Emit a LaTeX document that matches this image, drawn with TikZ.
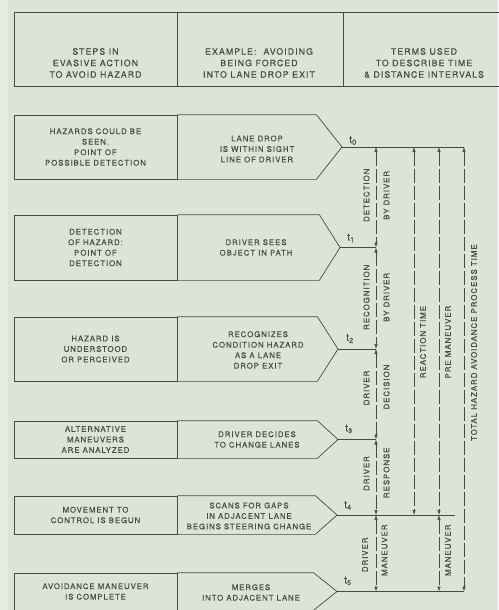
\documentclass[tikz,border=0pt]{standalone}
\usepackage{fontspec}
\setmainfont{TeX Gyre Heros}[LetterSpace=12, FakeBold=0.4]
\usetikzlibrary{arrows.meta, positioning}
\definecolor{paper}{HTML}{DDE4D5}
\definecolor{paperedge}{HTML}{E7ECE1}
\definecolor{ink}{HTML}{464B42}
\definecolor{inktext}{HTML}{484D45}
\tikzset{
  boxline/.style={draw=ink, line width=0.7pt},
  headtxt/.style={align=center, text=inktext, font=\fontsize{8.8}{11.5}\selectfont, inner sep=0pt},
  stepbox/.style={rectangle, boxline, minimum width=163pt, align=center,
                  text=inktext, font=\fontsize{7.8}{10.5}\selectfont, inner sep=2pt},
  extxt/.style={align=center, text=inktext, font=\fontsize{7.8}{10.5}\selectfont, inner sep=0pt},
  tlab/.style={text=inktext, font=\fontsize{10.5}{12}\selectfont, inner sep=1pt},
  tline/.style={draw=ink, line width=0.7pt},
  dim/.style={draw=ink, line width=0.55pt, dash pattern=on 14pt off 3pt,
              {Latex[length=5pt,width=3.4pt]}-{Latex[length=5pt,width=3.4pt]}},
  vlab/.style={rotate=90, text=inktext, font=\fontsize{7.9}{9}\selectfont, inner sep=0pt},
}

\begin{document}
\begin{tikzpicture}[x=1pt, y=-1pt]
  \useasboundingbox (0,0) rectangle (498,610);
  \fill[paper] (0,0) rectangle (498,610);
  \fill[paperedge] (0,0) rectangle (8,610);

  % header
  \draw[boxline] (14,12) rectangle (512,86);
  \draw[boxline] (177,12) -- (177,86);
  \draw[boxline] (343,12) -- (343,86);
  \node[headtxt] (h1) at (95.5,63) {STEPS IN\\EVASIVE ACTION\\TO AVOID HAZARD};
  \node[headtxt] (h2) at (259,63) {EXAMPLE:\ \ AVOIDING\\BEING FORCED\\INTO LANE DROP EXIT};
  \node[headtxt] (h3) at (424,63) {TERMS USED\\TO DESCRIBE TIME\\\& DISTANCE INTERVALS};

  % steps and examples
  \node[stepbox, minimum height=64pt] (s0) at (95.5,147) {HAZARDS COULD BE\\SEEN.\\POINT OF\\POSSIBLE DETECTION};
  \coordinate (t0) at (342,147);
  \draw[boxline] (s0.north east) -- ([xshift=139pt]s0.north east) -- (t0) -- ([xshift=139pt]s0.south east) -- (s0.south east);
  \node[extxt] (e0) at (257,149) {LANE DROP\\IS WITHIN SIGHT\\LINE OF DRIVER};

  \node[stepbox, minimum height=65pt] (s1) at (95.5,247.5) {DETECTION\\OF HAZARD:\\POINT OF\\DETECTION};
  \coordinate (t1) at (340,247.5);
  \draw[boxline] (s1.north east) -- ([xshift=142pt]s1.north east) -- (t1) -- ([xshift=142pt]s1.south east) -- (s1.south east);
  \node[extxt] (e1) at (256,247.5) {DRIVER SEES\\OBJECT IN PATH};

  \node[stepbox, minimum height=64pt] (s2) at (95.5,349) {HAZARD IS\\UNDERSTOOD\\OR PERCEIVED};
  \coordinate (t2) at (338,349);
  \draw[boxline] (s2.north east) -- ([xshift=140pt]s2.north east) -- (t2) -- ([xshift=140pt]s2.south east) -- (s2.south east);
  \node[extxt] (e2) at (258,350) {RECOGNIZES\\CONDITION HAZARD\\AS A LANE\\DROP EXIT};

  \node[stepbox, minimum height=37pt] (s3) at (95.5,439.5) {ALTERNATIVE\\MANEUVERS\\ARE ANALYZED};
  \coordinate (t3) at (338,439.5);
  \draw[boxline] (s3.north east) -- ([xshift=140pt]s3.north east) -- (t3) -- ([xshift=140pt]s3.south east) -- (s3.south east);
  \node[extxt] (e3) at (257,439.5) {DRIVER DECIDES\\TO CHANGE LANES};

  \node[stepbox, minimum height=38pt] (s4) at (95.5,515) {MOVEMENT TO\\CONTROL IS BEGUN};
  \coordinate (t4) at (337,515);
  \draw[boxline] (s4.north east) -- ([xshift=138pt]s4.north east) -- (t4) -- ([xshift=138pt]s4.south east) -- (s4.south east);
  \node[extxt] (e4) at (249,516) {SCANS FOR GAPS\\IN ADJACENT LANE\\BEGINS STEERING CHANGE};

  \node[stepbox, minimum height=37pt] (s5) at (95.5,591.5) {AVOIDANCE MANEUVER\\IS COMPLETE};
  \coordinate (t5) at (337,591.5);
  \draw[boxline] (s5.north east) -- ([xshift=136pt]s5.north east) -- (t5) -- ([xshift=136pt]s5.south east) -- (s5.south east);
  \node[extxt] (e5) at (251,592.5) {MERGES\\INTO ADJACENT LANE};

  % time marks
  \node[tlab, above right=1pt and 6pt of t0] (l0) {t\textsubscript{0}};
  \node[tlab, above right=4pt and 6pt of t1] (l1) {t\textsubscript{1}};
  \node[tlab, above right=5pt and 7pt of t2] (l2) {t\textsubscript{2}};
  \node[tlab, above right=5pt and 6pt of t3] (l3) {t\textsubscript{3}};
  \node[tlab, above right=4pt and 6pt of t4] (l4) {t\textsubscript{4}};
  \node[tlab, above right=5pt and 6pt of t5] (l5) {t\textsubscript{5}};

  \coordinate (colA) at (376,0);
  \coordinate (colB) at (414,0);
  \coordinate (colC) at (439,0);
  \coordinate (colD) at (464,0);
  \coordinate (t4end) at (455,515);

  \draw[tline] (t0) -- (t0 -| colD);
  \draw[tline] (t1) -- (t1 -| colA);
  \draw[tline] (t2) -- (t2 -| colA);
  \draw[tline] (t3) -- (t3 -| colA);
  \draw[tline] (t4) -- (t4end);
  \draw[tline] (t5) -- (t5 -| colD);

  % intervals
  \draw[dim] (t0 -| colA) -- node[pos=0.48, xshift=-9.5pt, vlab] {DETECTION} node[pos=0.48, xshift=10.5pt, vlab] {BY DRIVER} (t1 -| colA);
  \draw[dim] (t1 -| colA) -- node[pos=0.49, xshift=-9.5pt, vlab] {RECOGNITION} node[pos=0.49, xshift=10.5pt, vlab] {BY DRIVER} (t2 -| colA);
  \draw[dim] (t2 -| colA) -- node[pos=0.43, xshift=-9.5pt, vlab] {DRIVER} node[pos=0.42, xshift=10.5pt, vlab] {DECISION} (t3 -| colA);
  \draw[dim] (t3 -| colA) -- node[pos=0.45, xshift=-9.5pt, vlab] {DRIVER} node[pos=0.44, xshift=10.5pt, vlab] {RESPONSE} (t4 -| colA);
  \draw[dim] (t4 -| colA) -- node[pos=0.52, xshift=-11pt, vlab] {DRIVER} node[pos=0.46, xshift=8.5pt, vlab] {MANEUVER} (t5 -| colA);

  \draw[dim] (t0 -| colB) -- node[pos=0.53, xshift=9pt, vlab] {REACTION TIME} (t4 -| colB);
  \draw[dim] (t0 -| colC) -- node[pos=0.53, xshift=9pt, vlab] {PRE MANEUVER} (t4 -| colC);
  \draw[dim] (t4 -| colC) -- node[pos=0.46, xshift=9pt, vlab] {MANEUVER} (t5 -| colC);
  \draw[dim] (t0 -| colD) -- node[pos=0.44, xshift=10pt, vlab] {TOTAL HAZARD AVOIDANCE PROCESS TIME} (t5 -| colD);
\end{tikzpicture}
\end{document}
